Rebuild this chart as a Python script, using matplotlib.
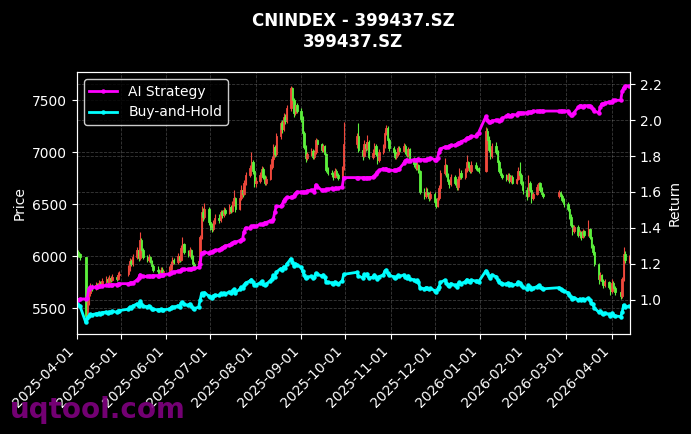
import matplotlib
matplotlib.use('Agg')
import matplotlib.pyplot as plt
import matplotlib.dates as mdates
import numpy as np
import pandas as pd

# Months shown and exchange closed days (weekdays without trading)
months = ['2025-04', '2025-05', '2025-06', '2025-07', '2025-08', '2025-09', '2025-10',
          '2025-11', '2025-12', '2026-01', '2026-02', '2026-03', '2026-04']
closed_days = ['2025-04-04', '2025-05-01', '2025-05-02', '2025-05-05', '2025-06-02',
               '2025-10-01', '2025-10-02', '2025-10-03', '2025-10-06', '2025-10-07', '2025-10-08',
               '2026-01-01', '2026-01-02', '2026-02-16', '2026-02-17', '2026-02-18',
               '2026-02-19', '2026-02-20', '2026-02-23', '2026-04-06']
last_day = '2026-04-13'

# Daily closing price, one list per month
close_by_month = [
    [6040, 6020, 5990, 5420, 5560, 5640, 5700, 5690, 5720, 5700, 5740, 5720, 5760, 5780, 5750,
     5790, 5770, 5800, 5780, 5820, 5830],
    [5880, 5950, 5920, 5990, 6060, 5980, 6150, 6060, 5990, 5960, 5990, 5950, 5900, 5870, 5860,
     5840, 5870, 5850, 5860],
    [5880, 5920, 5960, 5940, 6000, 5960, 6080, 6120, 6040, 6010, 6060, 5990, 5920, 5900, 5950,
     6180, 6420, 6380, 6450, 6330],
    [6290, 6260, 6330, 6370, 6350, 6420, 6390, 6440, 6410, 6470, 6430, 6500, 6560, 6450, 6560,
     6640, 6600, 6700, 6780, 6850, 6900, 6820, 6700],
    [6720, 6780, 6840, 6760, 6700, 6740, 6860, 6930, 7050, 6980, 7150, 7280, 7220, 7340, 7300,
     7420, 7620, 7500, 7380, 7450, 7400],
    [7320, 7180, 7050, 6940, 6980, 7010, 6950, 7000, 7120, 7080, 7020, 7060, 6980, 6830, 6800,
     6790, 6760, 6820, 6780, 6750, 6850, 7080],
    [7150, 7020, 6960, 7080, 7040, 7100, 6950, 6990, 7060, 6980, 6920, 7000, 7060, 7180, 7230,
     7120, 7040],
    [7000, 6950, 6980, 7040, 7010, 7060, 7000, 6970, 7030, 6920, 6890, 6850, 6880, 6820, 6620,
     6580, 6620, 6600, 6560, 6600],
    [6520, 6480, 6560, 6650, 6800, 6880, 6780, 6720, 6690, 6760, 6700, 6660, 6740, 6800, 6760,
     6830, 6900, 6860, 6820, 6880, 6850, 6840, 6820],
    [7200, 7120, 7020, 6960, 7060, 7000, 6900, 6820, 6780, 6760, 6740, 6780, 6720, 6760, 6700,
     6740, 6820, 6780, 6700, 6640],
    [6580, 6700, 6640, 6560, 6600, 6660, 6700, 6640, 6600, 6580, 6620, 6580, 6540, 6500],
    [6450, 6380, 6300, 6240, 6280, 6200, 6230, 6180, 6240, 6200, 6260, 6180, 6100, 6040, 5920,
     5780, 5820, 5760, 5720, 5750, 5700, 5660],
    [5740, 5690, 5650, 5620, 5780, 6020, 5960, 5980],
]

# Daily high, one list per month
high_by_month = [
    [6080, 6060, 6030, 5990, 5600, 5680, 5740, 5730, 5750, 5740, 5770, 5760, 5790, 5810, 5800,
     5820, 5810, 5830, 5820, 5850, 5860],
    [5910, 5980, 5970, 6020, 6090, 6080, 6230, 6170, 6080, 6010, 6020, 6000, 5960, 5920, 5900,
     5880, 5890, 5890, 5880],
    [5900, 5950, 5990, 5980, 6030, 6020, 6110, 6180, 6130, 6060, 6090, 6070, 6010, 5940, 5970,
     6200, 6480, 6460, 6510, 6470],
    [6360, 6320, 6350, 6400, 6400, 6440, 6440, 6470, 6460, 6500, 6490, 6530, 6640, 6570, 6590,
     6680, 6660, 6730, 6810, 6880, 7000, 6920, 6840],
    [6760, 6810, 6870, 6860, 6780, 6770, 6890, 6960, 7080, 7070, 7180, 7300, 7310, 7380, 7370,
     7450, 7640, 7630, 7520, 7490, 7470],
    [7420, 7350, 7200, 7070, 7000, 7040, 7030, 7020, 7140, 7130, 7090, 7080, 7070, 6990, 6860,
     6830, 6810, 6850, 6840, 6800, 6870, 7290],
    [7180, 7280, 7050, 7120, 7100, 7160, 7120, 7030, 7090, 7080, 7010, 7030, 7080, 7210, 7260,
     7250, 7140],
    [7060, 7030, 7000, 7060, 7060, 7090, 7080, 7020, 7050, 7040, 6950, 6910, 6900, 6890, 6830,
     6650, 6660, 6650, 6620, 6630],
    [6620, 6560, 6580, 6680, 6830, 6940, 6890, 6800, 6740, 6790, 6780, 6720, 6770, 6850, 6830,
     6850, 6970, 6910, 6880, 6910, 6900, 6880, 6860],
    [7240, 7230, 7150, 7040, 7090, 7100, 7020, 6920, 6850, 6800, 6790, 6800, 6800, 6780, 6780,
     6760, 6860, 6900, 6800, 6720],
    [6660, 6780, 6720, 6660, 6620, 6690, 6710, 6710, 6660, 6620, 6640, 6630, 6600, 6560],
    [6520, 6490, 6400, 6320, 6300, 6300, 6250, 6240, 6260, 6250, 6350, 6270, 6190, 6120, 6050,
     5930, 5850, 5830, 5780, 5780, 5760, 5720],
    [5780, 5760, 5710, 5670, 5800, 6090, 6050, 6010],
]

# Daily low, one list per month
low_by_month = [
    [6000, 5990, 5960, 5380, 5410, 5530, 5620, 5660, 5670, 5680, 5690, 5700, 5700, 5740, 5730,
     5740, 5750, 5760, 5760, 5770, 5800],
    [5810, 5860, 5900, 5900, 5970, 5950, 5960, 6030, 5970, 5940, 5940, 5930, 5890, 5850, 5840,
     5820, 5830, 5830, 5830],
    [5840, 5860, 5900, 5920, 5920, 5940, 5950, 6060, 6020, 5990, 5990, 5970, 5900, 5880, 5890,
     5940, 6160, 6340, 6360, 6300],
    [6250, 6230, 6240, 6310, 6320, 6330, 6370, 6380, 6390, 6400, 6410, 6420, 6480, 6420, 6440,
     6540, 6570, 6590, 6680, 6760, 6830, 6790, 6660],
    [6660, 6700, 6760, 6740, 6680, 6680, 6730, 6840, 6910, 6950, 6960, 7130, 7180, 7200, 7270,
     7280, 7400, 7460, 7340, 7360, 7380],
    [7290, 7160, 7030, 6900, 6920, 6960, 6930, 6930, 6980, 7050, 7000, 7000, 6960, 6810, 6780,
     6760, 6730, 6750, 6760, 6730, 6740, 6830],
    [7040, 7000, 6920, 6950, 7010, 7020, 6930, 6930, 6970, 6960, 6890, 6900, 6980, 7040, 7160,
     7100, 7010],
    [6980, 6930, 6930, 6960, 6990, 7000, 6980, 6950, 6950, 6900, 6860, 6830, 6830, 6800, 6600,
     6550, 6560, 6580, 6530, 6540],
    [6500, 6460, 6470, 6540, 6630, 6780, 6760, 6700, 6650, 6670, 6680, 6640, 6640, 6720, 6740,
     6740, 6810, 6840, 6800, 6800, 6830, 6820, 6800],
    [6810, 7080, 7000, 6930, 6940, 6980, 6880, 6800, 6760, 6740, 6720, 6720, 6700, 6700, 6690,
     6690, 6730, 6760, 6680, 6600],
    [6540, 6570, 6620, 6510, 6540, 6590, 6640, 6620, 6580, 6560, 6560, 6560, 6520, 6470],
    [6430, 6360, 6280, 6200, 6220, 6180, 6170, 6150, 6170, 6180, 6190, 6160, 6080, 6010, 5900,
     5730, 5760, 5730, 5690, 5700, 5680, 5630],
    [5640, 5670, 5630, 5590, 5600, 5760, 5930, 5930],
]

# AI strategy equity curve (return multiple), one list per month
ai_by_month = [
    [1.00, 1.00, 1.005, 1.005, 1.01, 1.06, 1.07, 1.07, 1.072, 1.072, 1.075, 1.075, 1.078, 1.08,
     1.08, 1.082, 1.083, 1.085, 1.085, 1.088, 1.09],
    [1.09, 1.092, 1.095, 1.095, 1.11, 1.12, 1.14, 1.13, 1.13, 1.13, 1.132, 1.13, 1.13, 1.135,
     1.135, 1.135, 1.14, 1.14, 1.14],
    [1.145, 1.15, 1.155, 1.155, 1.16, 1.16, 1.165, 1.17, 1.17, 1.17, 1.172, 1.172, 1.175, 1.175,
     1.18, 1.20, 1.26, 1.26, 1.265, 1.26],
    [1.265, 1.265, 1.27, 1.275, 1.28, 1.285, 1.29, 1.295, 1.30, 1.305, 1.31, 1.315, 1.32, 1.32,
     1.33, 1.335, 1.34, 1.38, 1.40, 1.40, 1.41, 1.41, 1.41],
    [1.41, 1.42, 1.42, 1.42, 1.43, 1.43, 1.44, 1.44, 1.45, 1.49, 1.52, 1.52, 1.53, 1.55, 1.56,
     1.57, 1.57, 1.57, 1.58, 1.59, 1.60],
    [1.60, 1.60, 1.60, 1.60, 1.605, 1.61, 1.61, 1.60, 1.64, 1.63, 1.61, 1.61, 1.61, 1.615, 1.615,
     1.62, 1.615, 1.62, 1.62, 1.62, 1.63, 1.68],
    [1.68, 1.68, 1.68, 1.68, 1.678, 1.68, 1.68, 1.682, 1.69, 1.70, 1.71, 1.72, 1.73, 1.725, 1.73,
     1.72, 1.72],
    [1.72, 1.72, 1.72, 1.725, 1.73, 1.76, 1.775, 1.78, 1.775, 1.775, 1.78, 1.78, 1.78, 1.785,
     1.78, 1.78, 1.78, 1.785, 1.785, 1.79],
    [1.78, 1.78, 1.79, 1.82, 1.84, 1.85, 1.85, 1.85, 1.855, 1.86, 1.86, 1.865, 1.87, 1.875, 1.88,
     1.89, 1.90, 1.90, 1.905, 1.91, 1.91, 1.92, 1.93],
    [2.02, 2.00, 1.99, 1.99, 1.995, 2.00, 2.00, 1.995, 2.00, 2.01, 2.02, 2.03, 2.02, 2.025, 2.03,
     2.03, 2.04, 2.04, 2.04, 2.04],
    [2.04, 2.045, 2.045, 2.045, 2.05, 2.05, 2.05, 2.05, 2.05, 2.05, 2.05, 2.05, 2.05, 2.05],
    [2.05, 2.04, 2.03, 2.03, 2.04, 2.07, 2.08, 2.08, 2.075, 2.08, 2.08, 2.08, 2.075, 2.06, 2.05,
     2.04, 2.07, 2.09, 2.09, 2.095, 2.10, 2.10],
    [2.10, 2.11, 2.11, 2.11, 2.16, 2.18, 2.19, 2.19],
]

# Buy-and-hold is price relative to this reference price
bh_base = 6200

# Build trading-day series
holidays = set(pd.to_datetime(closed_days))
dates, close, high, low, ai = [], [], [], [], []
for m, c_vals, h_vals, l_vals, a_vals in zip(months, close_by_month, high_by_month,
                                             low_by_month, ai_by_month):
    start = pd.Timestamp(m + '-01')
    days = [d for d in pd.bdate_range(start, start + pd.offsets.MonthEnd(0))
            if d not in holidays and d <= pd.Timestamp(last_day)]
    for d, c, h, l, a in zip(days, c_vals, h_vals, l_vals, a_vals):
        dates.append(d)
        close.append(c)
        high.append(h)
        low.append(l)
        ai.append(a)

dates = pd.DatetimeIndex(dates)
close = np.array(close, dtype=float)
opens = np.concatenate([[close[0]], close[:-1]])
high = np.maximum(np.array(high, dtype=float), np.maximum(opens, close))
low = np.minimum(np.array(low, dtype=float), np.minimum(opens, close))
ai = np.array(ai, dtype=float)
buy_hold = close / bh_base

# Figure
fig = plt.figure(figsize=(6.91, 4.34), dpi=100, facecolor='black')
ax = fig.add_subplot(111)
fig.subplots_adjust(left=0.1114, right=0.9117, bottom=0.2304, top=0.834)
ax.set_facecolor('black')

# Candles: red up, green down
up = close >= opens
colors = np.where(up, '#f0483c', '#5cf03c')
ax.vlines(dates, low, high, colors=colors, linewidth=0.8, zorder=2)
ax.bar(dates, np.abs(close - opens), bottom=np.minimum(opens, close), width=1.0,
       color=colors, edgecolor=colors, linewidth=0.6, zorder=2)

ax.set_ylim(5250, 7770)
ax.set_xlim(dates[0], dates[-1] + pd.Timedelta(hours=8))
ax.set_ylabel('Price', color='white', fontsize=10)
ax.grid(True, color='gray', linestyle='--', linewidth=0.6, alpha=0.45)
ax.set_axisbelow(True)

ax.xaxis.set_major_locator(mdates.MonthLocator(bymonthday=1))
ax.xaxis.set_major_formatter(mdates.DateFormatter('%Y-%m-%d'))
plt.setp(ax.get_xticklabels(), rotation=45, ha='right')

# Returns on the right axis
ax2 = ax.twinx()
ax2.plot(dates, ai, color='#ff00ff', linewidth=2, marker='o', markersize=2.2, label='AI Strategy')
ax2.plot(dates, buy_hold, color='#00ffff', linewidth=2, marker='o', markersize=2.2, label='Buy-and-Hold')
ax2.set_ylim(0.81, 2.267)
ax2.set_yticks([1.0, 1.2, 1.4, 1.6, 1.8, 2.0, 2.2])
ax2.set_ylabel('Return', color='white', fontsize=10)
ax2.grid(True, color='gray', linestyle='--', linewidth=0.6, alpha=0.45)

for a in (ax, ax2):
    a.tick_params(colors='white', labelsize=10)
    for s in a.spines.values():
        s.set_color('white')

leg = ax2.legend(loc='upper left', facecolor='black', edgecolor='white', fontsize=10)
for t in leg.get_texts():
    t.set_color('white')

ax.set_title('CNINDEX - 399437.SZ\n399437.SZ', color='white', fontsize=12,
             fontweight='bold', pad=18)

# Watermark
fig.text(0.0145, 0.037, 'uqtool.com', fontsize=20, fontweight='bold', color='purple',
         alpha=0.9, va='baseline', zorder=0)

fig.savefig('out.png', dpi=100, facecolor='black')
